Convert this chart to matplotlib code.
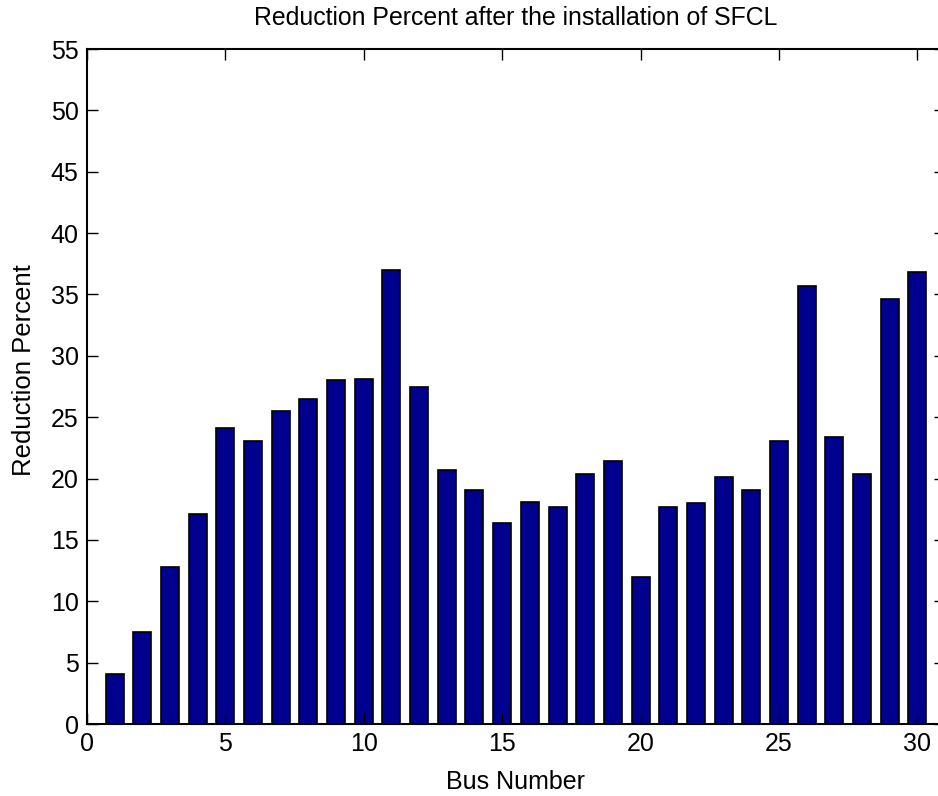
import numpy as np
import matplotlib
matplotlib.use('Agg')
import matplotlib.pyplot as plt

# Reduction percent per bus after SFCL installation
bus = np.arange(1, 31)
reduction = [4.1, 7.5, 12.8, 17.1, 24.1, 23.1, 25.5, 26.5, 28.0, 28.1,
             37.0, 27.5, 20.7, 19.1, 16.4, 18.1, 17.7, 20.4, 21.4, 12.0,
             17.7, 18.0, 20.1, 19.1, 23.1, 35.7, 23.4, 20.4, 34.6, 36.8]
yticks = np.arange(0, 56, 5)
xticks = [0, 5, 10, 15, 20, 25, 30]

plt.rcParams['font.family'] = ['Liberation Sans', 'DejaVu Sans']

fig = plt.figure(figsize=(9.38, 7.96), dpi=100)
ax = fig.add_axes([87 / 938, 1 - 724 / 796, (945 - 87) / 938, (724 - 49) / 796])

ax.bar(bus, reduction, width=0.65, color='#00008f', edgecolor='black', linewidth=1.2)

ax.set_xlim(0, 31)
ax.set_ylim(0, 55)
ax.set_xticks(xticks)
ax.set_yticks(yticks)
ax.tick_params(direction='in', length=8, width=1, top=True, right=True,
               labelsize=18, pad=6)
for s in ax.spines.values():
    s.set_linewidth(1.5)

ax.set_title('Reduction Percent after the installation of SFCL', fontsize=17.9, pad=17)
ax.set_xlabel('Bus Number', fontsize=18, labelpad=10)
ax.set_ylabel('Reduction Percent', fontsize=18.5)
ax.yaxis.set_label_coords(-0.059, 0.524)

fig.savefig('out.png', dpi=100)
